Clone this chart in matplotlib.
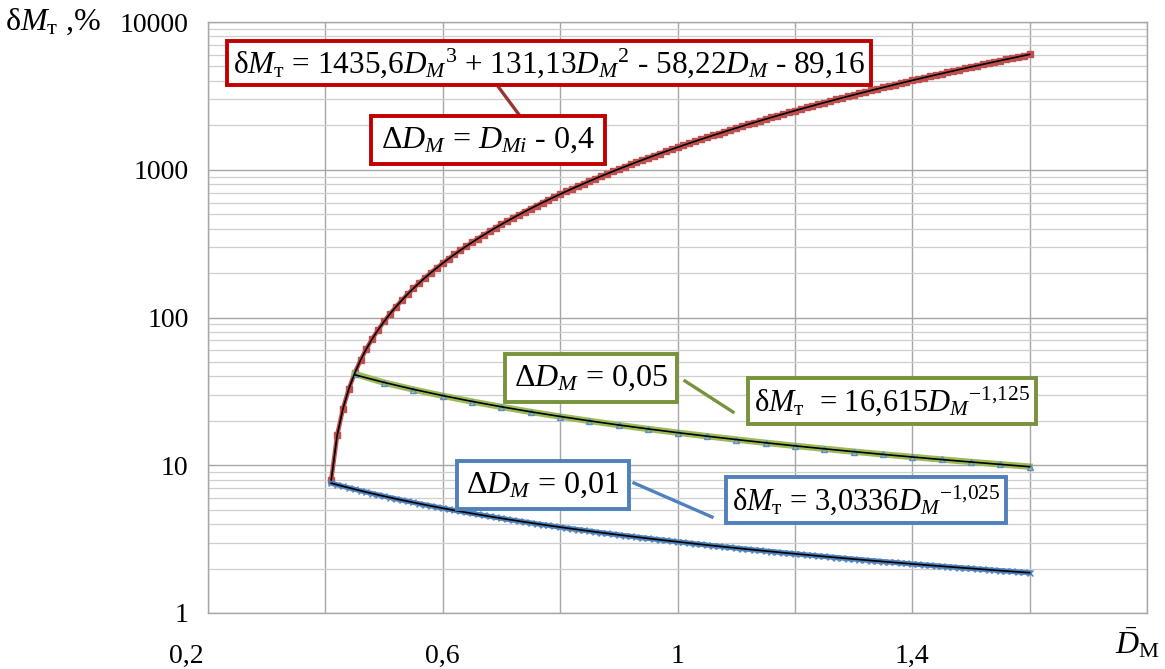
import numpy as np
import matplotlib
matplotlib.use('Agg')
import matplotlib.pyplot as plt
import matplotlib.transforms as mtransforms
from matplotlib.lines import Line2D
from matplotlib.ticker import LogLocator, NullFormatter

plt.rcParams['font.family'] = ['Liberation Serif', 'DejaVu Serif']
plt.rcParams['mathtext.fontset'] = 'custom'
plt.rcParams['mathtext.rm'] = 'Liberation Serif'
plt.rcParams['mathtext.it'] = 'Liberation Serif:italic'
plt.rcParams['mathtext.bf'] = 'Liberation Serif:bold'

# ---------------- data ----------------
d_red = np.round(np.arange(0.41, 1.6001, 0.01), 2)
dm_red = [7.96, 15.9, 24.2, 32.9, 42.0, 51.5, 61.5, 71.9, 82.7, 94.0,
          105.7, 117.9, 130.5, 143.7, 157.3, 171.5, 186.1, 201.3, 217.0, 233.2,
          250.0, 267.3, 285.2, 303.6, 322.7, 342.3, 362.5, 383.3, 404.7, 426.8,
          449.4, 472.7, 496.7, 521.3, 546.6, 572.5, 599.2, 626.5, 654.5, 683.2,
          712.7, 742.8, 773.7, 805.4, 837.7, 870.9, 904.8, 939.5, 974.9, 1011.2,
          1048.3, 1086.2, 1124.8, 1164.4, 1204.7, 1245.9, 1288.0, 1330.9, 1374.7, 1419.4,
          1464.9, 1511.4, 1558.7, 1607.0, 1656.2, 1706.3, 1757.4, 1809.4, 1862.3, 1916.3,
          1971.2, 2027.0, 2083.9, 2141.8, 2200.7, 2260.6, 2321.5, 2383.5, 2446.5, 2510.5,
          2575.6, 2641.8, 2709.1, 2777.4, 2846.9, 2917.4, 2989.1, 3061.8, 3135.7, 3210.8,
          3287.0, 3364.3, 3442.8, 3522.5, 3603.4, 3685.4, 3768.6, 3853.1, 3938.7, 4025.6,
          4113.8, 4203.1, 4293.7, 4385.6, 4478.7, 4573.2, 4668.8, 4765.8, 4864.1, 4963.7,
          5064.6, 5166.9, 5270.5, 5375.4, 5481.6, 5589.3, 5698.3, 5808.7, 5920.4, 6033.6]

d_blue = np.round(np.arange(0.41, 1.6001, 0.01), 2)
dm_blue = [7.566, 7.381, 7.205, 7.037, 6.878, 6.724, 6.578, 6.437, 6.302, 6.173,
           6.049, 5.930, 5.815, 5.705, 5.599, 5.496, 5.397, 5.302, 5.210, 5.121,
           5.035, 4.952, 4.871, 4.793, 4.718, 4.645, 4.573, 4.504, 4.437, 4.373,
           4.309, 4.248, 4.188, 4.131, 4.074, 4.019, 3.965, 3.913, 3.863, 3.813,
           3.765, 3.718, 3.672, 3.627, 3.584, 3.541, 3.499, 3.458, 3.418, 3.379,
           3.342, 3.304, 3.268, 3.232, 3.197, 3.163, 3.130, 3.097, 3.065, 3.034,
           3.003, 2.973, 2.943, 2.914, 2.886, 2.858, 2.830, 2.804, 2.777, 2.751,
           2.726, 2.701, 2.676, 2.652, 2.629, 2.606, 2.583, 2.560, 2.538, 2.517,
           2.495, 2.474, 2.454, 2.433, 2.413, 2.394, 2.374, 2.355, 2.337, 2.318,
           2.300, 2.282, 2.265, 2.247, 2.230, 2.214, 2.197, 2.181, 2.165, 2.149,
           2.133, 2.118, 2.103, 2.088, 2.073, 2.058, 2.044, 2.030, 2.016, 2.002,
           1.988, 1.975, 1.962, 1.949, 1.936, 1.923, 1.911, 1.898, 1.886, 1.874]

d_green = [0.45, 0.50, 0.55, 0.60, 0.65, 0.70, 0.75, 0.80, 0.85, 0.90, 0.95, 1.00,
           1.05, 1.10, 1.15, 1.20, 1.25, 1.30, 1.35, 1.40, 1.45, 1.50, 1.55, 1.60]
dm_green = [41.5, 36.24, 32.55, 29.52, 26.98, 24.82, 22.96, 21.36, 19.95, 18.71, 17.60, 16.62,
            15.73, 14.93, 14.20, 13.53, 12.93, 12.37, 11.85, 11.38, 10.94, 10.53, 10.15, 9.79]

x_ticks = [0.2, 0.4, 0.6, 0.8, 1.0, 1.2, 1.4, 1.6, 1.8]
x_ticklabels = ['0,2', '', '0,6', '', '1', '', '1,4', '', '']
y_ticks = [1, 10, 100, 1000, 10000]
y_ticklabels = ['1', '10', '100', '1000', '10000']

# ---------------- figure ----------------
W, H = 1165, 669
fig = plt.figure(figsize=(W / 100, H / 100), dpi=100)
ax = fig.add_axes([208 / W, 1 - 613 / H, (1147 - 208) / W, (613 - 22) / H])

def fx(px):
    return px / W

def fy(py):
    return 1 - py / H

red_c = '#C0504D'
blue_c = '#4F81BD'
green_c = '#9BBB59'

ax.plot(d_red, dm_red, color=red_c, lw=3.2, marker='s', ms=4.5, mfc=red_c, mec=red_c, zorder=3)
ax.plot(d_blue, dm_blue, color=blue_c, lw=3.6, marker='x', ms=4.5, mew=1.0, mec=blue_c, zorder=3)
ax.plot(d_green, dm_green, color=green_c, lw=4.6, marker='^', ms=4.5, mfc='none', mec='#5B8FC9',
        mew=1.0, zorder=3)

# trend lines fitted through the library
xr = np.asarray(d_red)
cr = np.polyfit(xr, dm_red, 3)
ax.plot(xr, np.polyval(cr, xr), color='black', lw=1.2, zorder=4)

xb = np.asarray(d_blue)
cb = np.polyfit(np.log(xb), np.log(dm_blue), 1)
ax.plot(xb, np.exp(np.polyval(cb, np.log(xb))), color='black', lw=1.2, zorder=4)

xg = np.asarray(d_green)
cg = np.polyfit(np.log(xg), np.log(dm_green), 1)
ax.plot(xg, np.exp(np.polyval(cg, np.log(xg))), color='black', lw=1.2, zorder=4)

ax.set_yscale('log')
ax.set_xlim(0.2, 1.8)
ax.set_ylim(1, 10000)
ax.set_xticks(x_ticks)
ax.set_xticklabels(x_ticklabels)
ax.set_yticks(y_ticks)
ax.set_yticklabels(y_ticklabels)
ax.yaxis.set_minor_locator(LogLocator(base=10, subs=np.arange(2, 10)))
ax.yaxis.set_minor_formatter(NullFormatter())
ax.grid(True, which='major', color='#A6A6A6', lw=1.0, zorder=0)
ax.grid(True, which='minor', axis='y', color='#CFCFCF', lw=0.9, zorder=0)
ax.set_axisbelow(True)
ax.tick_params(axis='both', which='both', length=0)
ax.tick_params(axis='y', labelsize=20, pad=14)
ax.tick_params(axis='x', labelsize=20, pad=22)
for s in ax.spines.values():
    s.set_color('#A6A6A6')
    s.set_linewidth(1.0)

# shift the first x label left as in the reference
lab0 = ax.get_xticklabels()[0]
lab0.set_transform(lab0.get_transform() + mtransforms.ScaledTranslation(-0.22, 0, fig.dpi_scale_trans))

# axis titles
fig.text(fx(5), fy(22), 'δ$M_{\\mathrm{т}}$ ,%', ha='left', va='center', fontsize=23)
fig.text(fx(1137), fy(643), r'$\bar{D}_{\mathrm{M}}$', ha='center', va='center', fontsize=23)

# leader lines
for (x0, y0, x1, y1, c) in [(497, 85, 520, 116, '#943634'),
                            (685, 381, 733, 412, '#77933C'),
                            (634, 483, 712, 517, blue_c)]:
    fig.add_artist(Line2D([fx(x0), fx(x1)], [fy(y0), fy(y1)], color=c, lw=2.4,
                          transform=fig.transFigure, zorder=4))

def box(cx, cy, s, ec, fs, pad=0.25):
    fig.text(fx(cx), fy(cy), s, ha='center', va='center', fontsize=fs, zorder=6,
             bbox=dict(boxstyle='square,pad=%s' % pad, fc='white', ec=ec, lw=2.8))

box(549, 63, 'δ$M_{\\mathrm{т}}$ = 1435,6$D_M$$^{3}$ + 131,13$D_M$$^{2}$ - 58,22$D_M$ - 89,16',
    '#C00000', 22.5, 0.18)
box(488, 140, 'Δ$D_M$ = $D_{Mi}$ - 0,4', '#C00000', 23, 0.3)
box(591, 378, 'Δ$D_M$ = 0,05', '#77933C', 23, 0.3)
box(892, 401, 'δ$M_{\\mathrm{т}}$  = 16,615$D_M$$^{\\mathrm{-1{,}125}}$', '#77933C', 22, 0.2)
box(543, 485, 'Δ$D_M$ = 0,01', blue_c, 23, 0.3)
box(866, 500, 'δ$M_{\\mathrm{т}}$ = 3,0336$D_M$$^{\\mathrm{-1{,}025}}$', blue_c, 22, 0.2)

fig.savefig('out.png', dpi=100)
